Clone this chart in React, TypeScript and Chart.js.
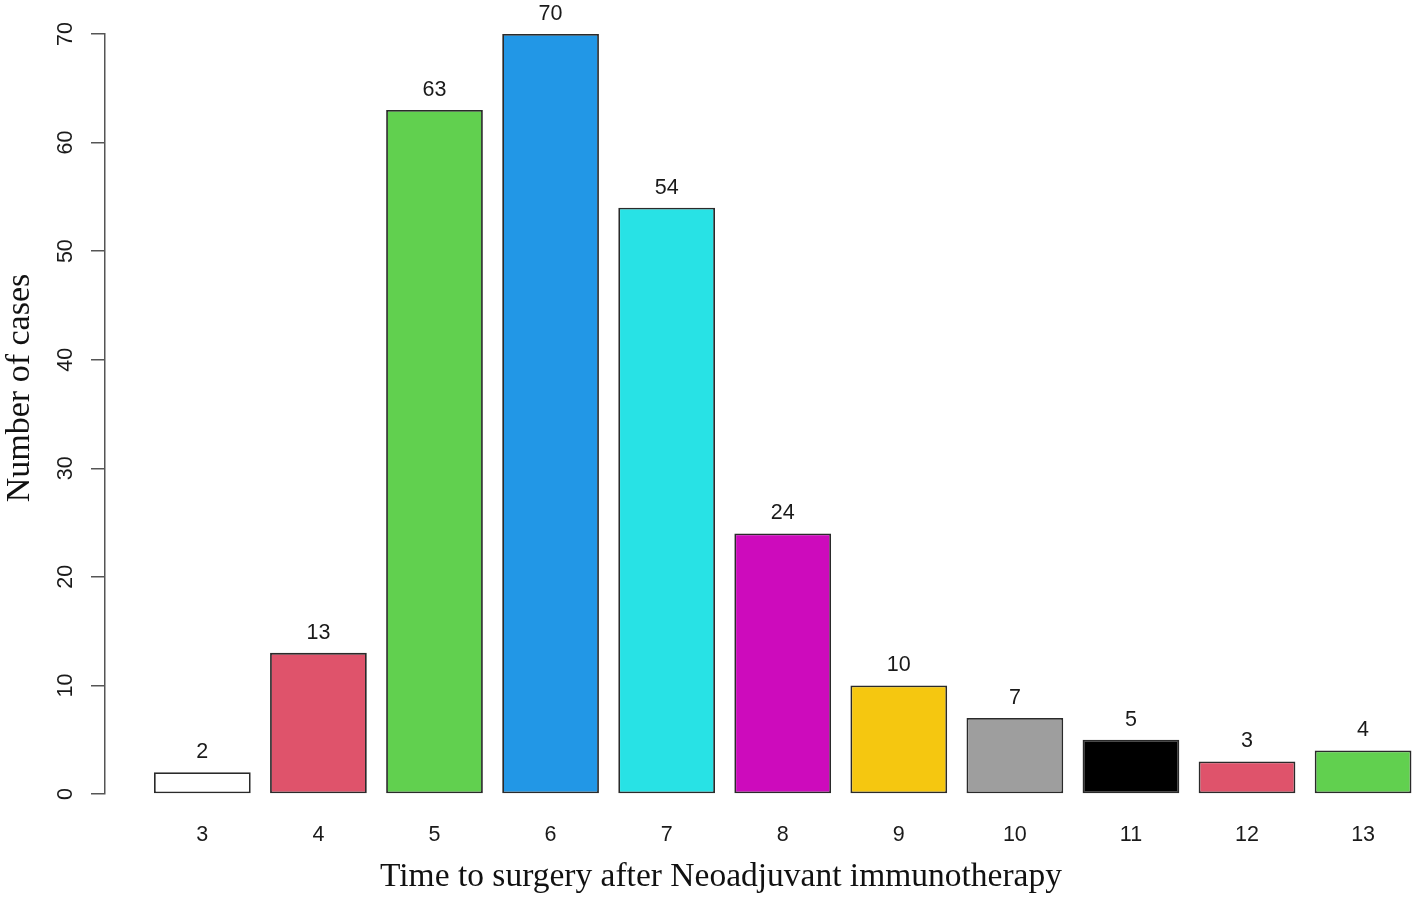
import React, { useEffect, useRef } from "react";
import { Chart, registerables } from "chart.js";

Chart.register(...registerables);

const categories = [3, 4, 5, 6, 7, 8, 9, 10, 11, 12, 13];
const caseCounts = [2, 13, 63, 70, 54, 24, 10, 7, 5, 3, 4];
const barColors = [
  "#FFFFFF",
  "#DF536B",
  "#61D04F",
  "#2297E6",
  "#28E2E5",
  "#CD0BBC",
  "#F5C710",
  "#9E9E9E",
  "#000000",
  "#DF536B",
  "#61D04F",
];
const yTickValues = [0, 10, 20, 30, 40, 50, 60, 70];
const xTitle = "Time to surgery after Neoadjuvant immunotherapy";
const yTitle = "Number of cases";

const SANS = '"Liberation Sans", Arial, Helvetica, sans-serif';
const SERIF = '"Liberation Serif", "Times New Roman", Times, serif';

const textPlugin = {
  id: "rTexts",
  afterDraw(chart: any) {
    const ctx = chart.ctx;
    const yScale = chart.scales.y;
    const area = chart.chartArea;
    ctx.save();
    ctx.fillStyle = "#1a1a1a";
    ctx.font = `21.5px ${SANS}`;
    ctx.textAlign = "center";
    ctx.textBaseline = "middle";
    // y tick labels (rotated, parallel to axis)
    yScale.ticks.forEach((t: any) => {
      const y = yScale.getPixelForValue(t.value);
      ctx.save();
      ctx.translate(area.left - 39, y);
      ctx.rotate(-Math.PI / 2);
      ctx.fillText(String(t.value), 0, 0);
      ctx.restore();
    });
    // value labels above bars
    const meta = chart.getDatasetMeta(0);
    meta.data.forEach((el: any, i: number) => {
      ctx.fillText(String(caseCounts[i]), el.x, el.y - 20);
    });
    // axis titles
    ctx.fillStyle = "#111";
    ctx.font = `33.5px ${SERIF}`;
    ctx.fillText(xTitle, 721, 877);
    ctx.font = `34px ${SERIF}`;
    ctx.save();
    ctx.translate(20, 388);
    ctx.rotate(-Math.PI / 2);
    ctx.fillText(yTitle, 0, 0);
    ctx.restore();
    ctx.restore();
  },
};

export default function App() {
  const canvasRef = useRef<HTMLCanvasElement | null>(null);

  useEffect(() => {
    if (!canvasRef.current) return;
    const chart = new Chart(canvasRef.current, {
      type: "bar",
      data: {
        datasets: [
          {
            data: categories.map((c, i) => ({ x: c, y: caseCounts[i] })),
            backgroundColor: barColors,
            borderColor: "#2a2a2a",
            borderWidth: 1.8,
            borderSkipped: false,
            barPercentage: 1 / 1.2,
            categoryPercentage: 1,
          } as any,
        ],
      },
      options: {
        animation: false,
        responsive: true,
        maintainAspectRatio: false,
        layout: { padding: { left: 0, right: 0, top: 34, bottom: 0 } },
        plugins: {
          legend: { display: false },
          tooltip: { enabled: false },
        },
        scales: {
          x: {
            type: "linear",
            offset: false,
            min: 2.1613,
            max: 13.4645,
            afterBuildTicks: (scale: any) => {
              scale.ticks = categories.map((v) => ({ value: v }));
            },
            afterFit: (scale: any) => {
              scale.height = 104;
            },
            grid: { display: false, drawTicks: false },
            border: { display: false },
            ticks: {
              padding: 28,
              color: "#1a1a1a",
              font: { size: 21.5, family: SANS },
              callback: (v: any) => String(v),
              maxRotation: 0,
              autoSkip: false,
            },
          },
          y: {
            min: 0,
            max: 70,
            afterBuildTicks: (scale: any) => {
              scale.ticks = yTickValues.map((v) => ({ value: v }));
            },
            afterFit: (scale: any) => {
              scale.width = 105;
            },
            grid: {
              drawOnChartArea: false,
              drawTicks: true,
              tickLength: 14,
              color: "#555555",
              lineWidth: 1.5,
            },
            border: { display: true, color: "#555555", width: 1.5 },
            ticks: { display: false },
          },
        },
      },
      plugins: [textPlugin],
    });
    return () => chart.destroy();
  }, []);

  return (
    <div
      style={{
        position: "fixed",
        left: 0,
        top: 0,
        width: 1417,
        height: 898,
        background: "#ffffff",
      }}
    >
      <canvas ref={canvasRef} />
    </div>
  );
}
